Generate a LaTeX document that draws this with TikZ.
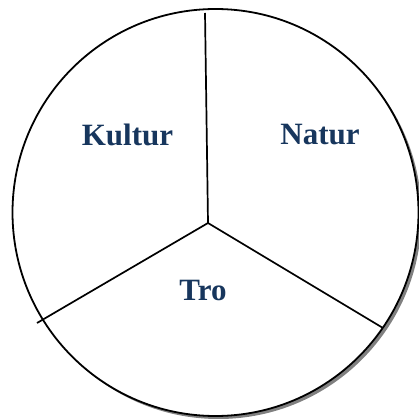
\documentclass[tikz,border=0pt]{standalone}
\usepackage{fontspec}
\setmainfont{Liberation Serif}
\definecolor{labelblue}{RGB}{23,54,93}
\definecolor{shadowgrey}{RGB}{128,128,128}
\begin{document}
\begin{tikzpicture}[x=1pt,y=-1pt,
  lbl/.style={text=labelblue,font=\bfseries\fontsize{31}{37}\selectfont,inner sep=0pt},
  divider/.style={draw=black,line width=1.7pt}]
\useasboundingbox (0,0) rectangle (418,419);
% shadow and circle
\fill[shadowgrey] (218.5,215.5) ellipse [x radius=203, y radius=203.5];
\draw[fill=white,line width=1.8pt] (215.5,212.5) ellipse [x radius=203, y radius=203.5];
% dividers
\coordinate (c) at (208,223);
\coordinate (top) at (205,13);
\coordinate (ll) at (37,323);
\coordinate (lr) at (383,328);
\draw[divider] (top) -- (c);
\draw[divider] (c) -- (ll);
\draw[divider] (c) -- (lr);
% labels
\node[lbl] (kultur) at (127.5,135) {Kultur};
\node[lbl] (natur) at (320,135) {Natur};
\node[lbl] (tro) at (203,290) {Tro};
\end{tikzpicture}
\end{document}
